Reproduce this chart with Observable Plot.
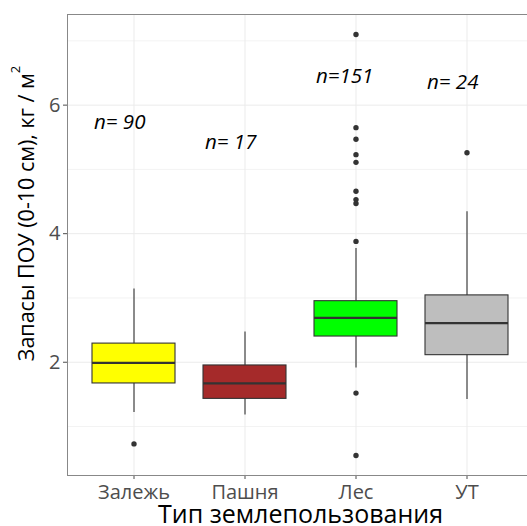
<!DOCTYPE html>
<html>
<head>
<meta charset="utf-8">
<script src="https://cdn.jsdelivr.net/npm/d3@7"></script>
<script src="https://cdn.jsdelivr.net/npm/@observablehq/plot@0.6"></script>
<style>
  html, body { margin: 0; padding: 0; background: #fff; overflow: hidden; }
  #chart { width: 527px; height: 526px; overflow: hidden; }
  #chart svg { max-width: none !important; display: block; }
</style>
</head>
<body>
<div id="chart"></div>
<script>
// ---- data ----
const categories = ["Залежь", "Пашня", "Лес", "УТ"];
const fills      = ["#FFFF00", "#A52A2A", "#00FF00", "#BEBEBE"];
const whiskerLow  = [1.22, 1.18, 1.91, 1.42];
const q1          = [1.67, 1.43, 2.40, 2.11];
const median      = [1.99, 1.67, 2.69, 2.61];
const q3          = [2.29, 1.95, 2.95, 3.04];
const whiskerHigh = [3.14, 2.47, 3.77, 4.34];
const outliersZalezh = [0.73];
const outliersPashnya = [];
const outliersLes = [7.10, 5.65, 5.47, 5.23, 5.11, 4.66, 4.53, 4.47, 3.88, 1.52, 0.55];
const outliersUT = [5.26];
const counts  = [90, 17, 151, 24];
const labelY  = [5.73, 5.42, 6.44, 6.36];
const yTicks = [2, 4, 6];
const yMinor = [1, 3, 5, 7];

const boxes = categories.map((c, i) => ({
  cat: c, fill: fills[i], lo: whiskerLow[i], q1: q1[i], med: median[i], q3: q3[i], hi: whiskerHigh[i],
  label: "n=" + String(counts[i]).padStart(3, "\u00A0"), ly: labelY[i]
}));
const outliers = [
  ...outliersZalezh.map(v => ({cat: categories[0], v})),
  ...outliersPashnya.map(v => ({cat: categories[1], v})),
  ...outliersLes.map(v => ({cat: categories[2], v})),
  ...outliersUT.map(v => ({cat: categories[3], v}))
];

const chart = Plot.plot({
  width: 540,
  height: 526,
  marginLeft: 67,
  marginRight: 6,
  marginTop: 14,
  marginBottom: 51,
  style: {fontFamily: "'Open Sans', sans-serif", background: "#fff", maxWidth: "none"},
  x: {domain: categories, type: "band", paddingInner: 0.25, paddingOuter: 0.225, align: 0.5},
  y: {domain: [0.238, 7.41]},
  marks: [
    Plot.ruleY(yMinor, {stroke: "#EBEBEB", strokeWidth: 0.6}),
    Plot.gridY({ticks: yTicks, stroke: "#EBEBEB", strokeOpacity: 1, strokeWidth: 1}),
    Plot.gridX({stroke: "#EBEBEB", strokeOpacity: 1, strokeWidth: 1}),
    Plot.ruleX(boxes, {x: "cat", y1: "lo", y2: "hi", stroke: "#333", strokeWidth: 1.1}),
    Plot.barY(boxes, {x: "cat", y1: "q1", y2: "q3", fill: "fill", stroke: "#333", strokeWidth: 1.1}),
    Plot.tickY(boxes, {x: "cat", y: "med", stroke: "#333", strokeWidth: 2.2}),
    Plot.dot(outliers, {x: "cat", y: "v", r: 2.7, fill: "#333", stroke: null}),
    Plot.text(boxes, {x: "cat", y: "ly", text: "label", textAnchor: "start", dx: -40,
      fontStyle: "italic", fontSize: 20.5, fill: "#000"}),
    Plot.axisX({tickSize: 4, tickPadding: 5, fontSize: 20, color: "#4D4D4D", label: null}),
    Plot.axisY({ticks: yTicks, tickSize: 4, tickPadding: 3, fontSize: 20, color: "#4D4D4D", label: null}),
    Plot.frame({stroke: "#888", strokeWidth: 1})
  ]
});

const svg = d3.select(chart);
svg.append("text")
  .attr("x", 300.5).attr("y", 523)
  .attr("text-anchor", "middle")
  .attr("font-size", 25)
  .attr("fill", "#000")
  .text("Тип землепользования");

const yt = svg.append("text")
  .attr("transform", "translate(33.5,213.5) rotate(-90)")
  .attr("text-anchor", "middle")
  .attr("font-size", 21.5)
  .attr("fill", "#000");
yt.append("tspan").text("Запасы ПОУ (0-10 см), кг / м");
yt.append("tspan").attr("dy", -14).attr("font-size", 13).text("2");

document.getElementById("chart").appendChild(chart);
</script>
</body>
</html>
